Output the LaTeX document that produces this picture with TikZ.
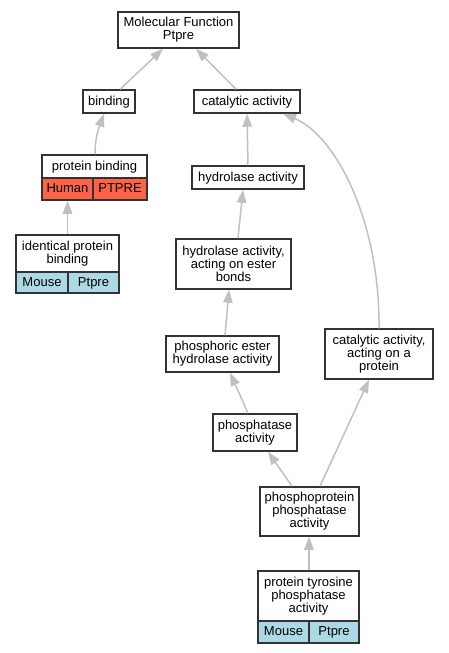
\documentclass[tikz,border=0pt]{standalone}
\usepackage{fontspec}
\setmainfont{Liberation Sans}
\usetikzlibrary{arrows.meta}
\definecolor{edgegray}{HTML}{C0C0C0}
\definecolor{framegray}{HTML}{333333}
\definecolor{human}{HTML}{FF6347}
\definecolor{mouse}{HTML}{ADD8E6}
\tikzset{
  box/.style={draw=framegray, line width=1.5pt, fill=white, inner sep=0pt, align=center,
    font=\fontsize{13}{13.1}\selectfont},
  oneline/.style={box, text height=10.2pt, text depth=2.8pt},
  humancell/.style={oneline, fill=human},
  mousecell/.style={oneline, fill=mouse},
  edge/.style={draw=edgegray, line width=1.5pt, -{Triangle[length=13pt,width=9.5pt,fill=edgegray]}}
}
\begin{document}
\begin{tikzpicture}[x=1pt,y=-1pt]
\useasboundingbox (0,0) rectangle (448,653);
% nodes
\node[box, minimum width=121pt, minimum height=36pt] (mf) at (178.5,30) {Molecular Function\\Ptpre};
\node[oneline, minimum width=52pt, minimum height=23pt] (bind) at (109,101.5) {binding};
\node[oneline, minimum width=106pt, minimum height=23pt] (cat) at (247,101.5) {catalytic activity};
\node[oneline, minimum width=105pt, minimum height=23pt] (pb) at (94.5,166.5) {protein binding};
\node[humancell, minimum width=51pt, minimum height=22pt] (pbh) at (67.5,189) {Human};
\node[humancell, minimum width=54pt, minimum height=22pt] (pbp) at (120,189) {PTPRE};
\node[oneline, minimum width=112pt, minimum height=23pt] (hyd) at (248,177.5) {hydrolase activity};
\node[box, minimum width=103pt, minimum height=37pt] (idp) at (67.5,253.5) {identical protein\\binding};
\node[mousecell, minimum width=52pt, minimum height=21pt] (idm) at (42,282.5) {Mouse};
\node[mousecell, minimum width=51pt, minimum height=21pt] (idg) at (93.5,282.5) {Ptpre};
\node[box, minimum width=115pt, minimum height=50pt] (haeb) at (233.5,264) {hydrolase activity,\\acting on ester\\bonds};
\node[box, minimum width=113pt, minimum height=36pt] (peh) at (222.5,354) {phosphoric ester\\hydrolase activity};
\node[box, minimum width=108pt, minimum height=50pt] (capr) at (379,354) {catalytic activity,\\acting on a\\protein};
\node[box, minimum width=84pt, minimum height=37pt] (phos) at (255,432.5) {phosphatase\\activity};
\node[box, minimum width=99pt, minimum height=49pt] (ppp) at (309.5,511.5) {phosphoprotein\\phosphatase\\activity};
\node[box, minimum width=101pt, minimum height=50pt] (ptp) at (308.5,596) {protein tyrosine\\phosphatase\\activity};
\node[mousecell, minimum width=51pt, minimum height=22pt] (ptpm) at (283.5,632) {Mouse};
\node[mousecell, minimum width=50pt, minimum height=22pt] (ptpg) at (334,632) {Ptpre};
% edges
\draw[edge] ([xshift=11pt]bind.north) -- ([xshift=-15.5pt]mf.south);
\draw[edge] ([xshift=-11pt]cat.north) -- ([xshift=17.5pt]mf.south);
\draw[edge] ([xshift=0.5pt]pb.north) .. controls (95,135) and (100,125) .. ([xshift=-5pt]bind.south);
\draw[edge] (idp.north) -- (pbh.south);
\draw[edge] (hyd.north) -- (cat.south);
\draw[edge] ([xshift=4.5pt]haeb.north) -- ([xshift=-5pt]hyd.south);
\draw[edge] ([xshift=2.5pt]peh.north) -- ([xshift=-4.5pt]haeb.south);
\draw[edge] ([xshift=-7pt]phos.north) -- ([xshift=7.5pt]peh.south);
\draw[edge] ([xshift=-17.5pt]ppp.north) -- ([xshift=13pt]phos.south);
\draw[edge] ([xshift=10.5pt]ppp.north) -- ([xshift=-10pt]capr.south);
\draw[edge] ([xshift=0.5pt]ptp.north) -- ([xshift=-0.5pt]ppp.south);
\draw[edge] (capr.north) .. controls (380,220) and (335,135) .. ([xshift=36pt]cat.south);
\end{tikzpicture}
\end{document}
